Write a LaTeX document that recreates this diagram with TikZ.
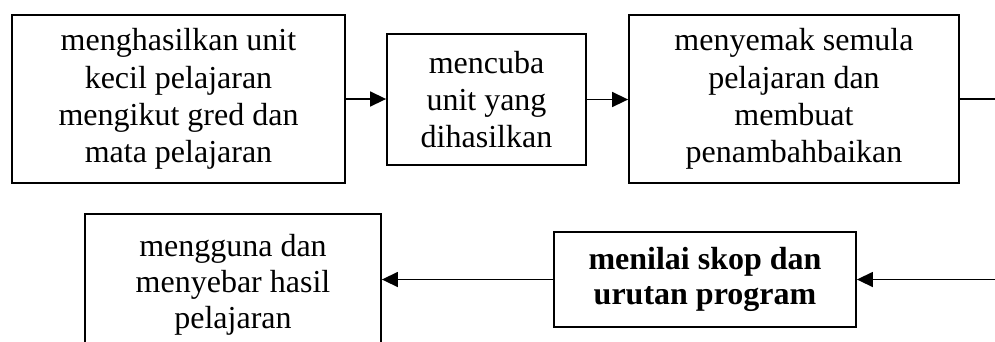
\documentclass[tikz,border=0pt]{standalone}
\usepackage{fontspec}
\setmainfont{Liberation Serif}
\usetikzlibrary{arrows.meta}
\begin{document}
\begin{tikzpicture}[x=1pt,y=-1pt,
  box/.style={draw, line width=1.8pt, inner sep=0pt, align=center,
    font=\fontsize{32}{37.3}\selectfont},
  arr/.style={line width=1.5pt, -{Triangle[length=16pt,width=15pt]}},
  ln/.style={line width=1.5pt}]
\useasboundingbox (0,0) rectangle (995,341);
\clip (0,0) rectangle (995,341);
\fill[white] (0,0) rectangle (995,341);
\node[box, minimum width=333pt, minimum height=168pt] (b1) at (178.5,99)
  {menghasilkan unit\\kecil pelajaran\\mengikut gred dan\\mata pelajaran};
\node[box, minimum width=199pt, minimum height=131pt] (b2) at (486.5,99.5)
  {mencuba\\unit yang\\dihasilkan};
\node[box, minimum width=330pt, minimum height=168pt] (b3) at (794,99)
  {menyemak semula\\pelajaran dan\\membuat\\penambahbaikan};
\node[box, minimum width=296pt, minimum height=142pt,
  font=\fontsize{32}{36}\selectfont] (b4) at (233,285)
  {mengguna dan\\menyebar hasil\\pelajaran};
\node[box, minimum width=302pt, minimum height=95pt,
  font=\fontsize{32}{35}\selectfont\bfseries] (b5) at (705,279.5)
  {menilai skop dan\\urutan program};
\coordinate (e1) at (995,99);
\coordinate (e2) at (995,279.5);
\draw[arr] (b1.east) -- (b2.west |- b1.east);
\draw[arr] (b2.east) -- (b3.west |- b2.east);
\draw[ln] (b3.east) -- (e1);
\draw[arr] (e2) -- (b5.east);
\draw[arr] (b5.west) -- (b4.east |- b5.west);
\end{tikzpicture}
\end{document}
